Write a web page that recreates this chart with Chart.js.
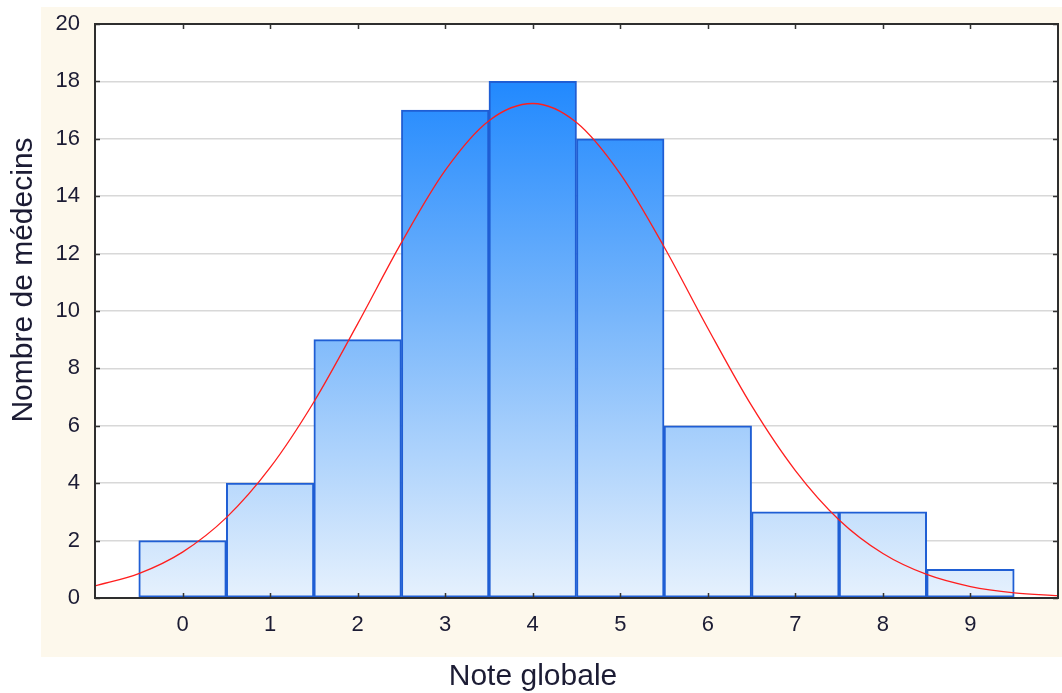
<!DOCTYPE html>
<html>
<head>
<meta charset="utf-8">
<script src="https://cdn.jsdelivr.net/npm/chart.js@4"></script>
<style>
  html, body { margin: 0; padding: 0; background: #ffffff; }
  #histo { display: block; }
</style>
</head>
<body>
<canvas id="histo" width="1062" height="693"></canvas>
<script>
// Données
const notes = [0, 1, 2, 3, 4, 5, 6, 7, 8, 9];
const nbMedecins = [2, 4, 9, 17, 18, 16, 6, 3, 3, 1];

// Courbe normale ajustée
const courbeX = [-1, -0.5, 0, 0.5, 1, 1.5, 2, 2.5, 3, 3.5, 4, 4.5, 5, 5.5, 6, 6.5, 7, 7.5, 8, 8.5, 9, 9.5, 10];
const courbeY = [0.42, 0.85, 1.6, 2.8, 4.54, 6.83, 9.55, 12.38, 14.9, 16.63, 17.23, 16.57, 14.78, 12.24, 9.4, 6.7, 4.44, 2.72, 1.55, 0.82, 0.4, 0.18, 0.08];

const titreX = 'Note globale';
const titreY = 'Nombre de médecins';

const couleurTexte = '#1c1c34';
const police = "'Liberation Sans', Arial, sans-serif";

// fond crème + zone blanche + cadre et petites graduations
const cadrePlugin = {
    id: 'cadre',
    beforeDraw(chart) {
        const ctx = chart.ctx;
        const a = chart.chartArea;
        ctx.save();
        ctx.fillStyle = '#fdf8ec';
        ctx.fillRect(41, 7, 1021, 650);
        ctx.fillStyle = '#ffffff';
        ctx.fillRect(a.left, a.top, a.right - a.left, a.bottom - a.top);
        ctx.restore();
    },
    afterDatasetsDraw(chart) {
        const ctx = chart.ctx;
        const a = chart.chartArea;
        const sx = chart.scales.x;
        const sy = chart.scales.y;
        ctx.save();
        ctx.strokeStyle = '#333333';
        ctx.lineWidth = 1.5;
        ctx.beginPath();
        sy.ticks.forEach(function (t) {
            const y = Math.round(sy.getPixelForValue(t.value)) + 0.5;
            ctx.moveTo(a.left, y); ctx.lineTo(a.left + 5, y);
            ctx.moveTo(a.right, y); ctx.lineTo(a.right - 5, y);
        });
        notes.forEach(function (n) {
            const x = Math.round(sx.getPixelForValue(n)) + 0.5;
            ctx.moveTo(x, a.bottom); ctx.lineTo(x, a.bottom - 5);
            ctx.moveTo(x, a.top); ctx.lineTo(x, a.top + 5);
        });
        ctx.stroke();
        ctx.strokeStyle = '#2e2e2e';
        ctx.lineWidth = 2;
        ctx.strokeRect(a.left, a.top, a.right - a.left, a.bottom - a.top);
        ctx.restore();
    },
    afterDraw(chart) {
        const ctx = chart.ctx;
        ctx.save();
        ctx.fillStyle = couleurTexte;
        ctx.font = '30px ' + police;
        ctx.textAlign = 'center';
        ctx.textBaseline = 'middle';
        ctx.fillText(titreX, 533, 677);
        ctx.translate(24, 280);
        ctx.rotate(-Math.PI / 2);
        ctx.fillText(titreY, 0, 0);
        ctx.restore();
    }
};

function degrade(context) {
    const chart = context.chart;
    const a = chart.chartArea;
    if (!a) return '#7cb9fe';
    const g = chart.ctx.createLinearGradient(0, a.top, 0, a.bottom);
    g.addColorStop(0, '#0c7eff');
    g.addColorStop(0.5, '#76b5fb');
    g.addColorStop(1, '#e6f1fd');
    return g;
}

const ctxHisto = document.getElementById('histo');
new Chart(ctxHisto.getContext('2d'), {
    data: {
        datasets: [
            {
                type: 'line',
                label: 'Normale',
                data: courbeX.map(function (x, i) { return { x: x, y: courbeY[i] }; }),
                borderColor: '#ff1e1e',
                borderWidth: 1.3,
                pointRadius: 0,
                cubicInterpolationMode: 'monotone',
                fill: false,
                order: 0
            },
            {
                type: 'bar',
                label: titreY,
                data: notes.map(function (n, i) { return { x: n, y: nbMedecins[i] }; }),
                backgroundColor: degrade,
                borderColor: '#1f5ed4',
                borderWidth: 2,
                borderSkipped: false,
                barPercentage: 1,
                categoryPercentage: 1,
                order: 1
            }
        ]
    },
    options: {
        responsive: false,
        animation: false,
        layout: { padding: { left: 0, top: 24, right: 4, bottom: 0 } },
        plugins: {
            legend: { display: false },
            tooltip: { enabled: false }
        },
        scales: {
            x: {
                type: 'linear',
                min: -1,
                max: 10,
                offset: false,
                afterBuildTicks: function (s) { s.ticks = notes.map(function (n) { return { value: n }; }); },
                afterFit: function (s) { s.height = 95; s.paddingLeft = 0; s.paddingRight = 0; },
                grid: { display: false, drawTicks: false, offset: false },
                border: { display: false },
                ticks: {
                    padding: 14,
                    color: couleurTexte,
                    font: { family: police, size: 22 },
                    maxRotation: 0,
                    autoSkip: false
                }
            },
            y: {
                min: 0,
                max: 20,
                afterFit: function (s) { s.width = 95; s.paddingTop = 0; s.paddingBottom = 0; },
                grid: { color: '#d8d8d8', lineWidth: 1.5, drawTicks: false },
                border: { display: false },
                ticks: {
                    stepSize: 2,
                    padding: 15,
                    color: couleurTexte,
                    font: { family: police, size: 22 }
                }
            }
        }
    },
    plugins: [cadrePlugin]
});
</script>
</body>
</html>
